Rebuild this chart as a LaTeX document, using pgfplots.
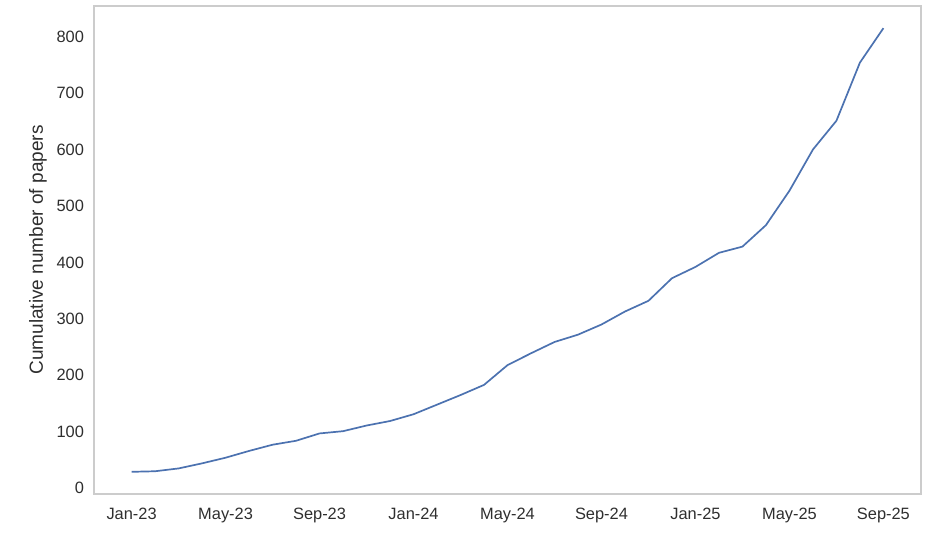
\documentclass[border=0pt]{standalone}
\usepackage{fontspec}
\setmainfont{Liberation Sans}
\usepackage{pgfplots}
\pgfplotsset{compat=1.18}
\definecolor{sbblue}{HTML}{4C72B0}
\definecolor{framegray}{HTML}{CCCCCC}
\definecolor{txtgray}{HTML}{2E2E2E}
\begin{document}
\begin{tikzpicture}
\useasboundingbox (-94pt,-49pt) rectangle (850pt,494pt);
\begin{axis}[
  at={(0pt,0pt)}, anchor=south west,
  scale only axis, width=827pt, height=488pt,
  xmin=-1.6, xmax=33.6, ymin=-10.3, ymax=854.3,
  axis line style={framegray, line width=1.2pt},
  xtick={0,4,8,12,16,20,24,28,32},
  xticklabels={Jan-23,May-23,Sep-23,Jan-24,May-24,Sep-24,Jan-25,May-25,Sep-25},
  ytick={0,100,200,300,400,500,600,700,800},
  major tick length=0pt, tick style={draw=none},
  /pgf/number format/assume math mode=true,
  ticklabel style={font=\fontsize{16.4}{19}\selectfont, text=txtgray},
  xticklabel style={yshift=-10.5pt},
  yticklabel style={xshift=-6.5pt},
  ylabel={Cumulative number of papers},
  every axis y label/.style={at={(rel axis cs:0,0.5)}, rotate=90, anchor=center, yshift=56pt, font=\fontsize{19}{22}\selectfont, text=txtgray},
  clip=false,
]
\addplot[sbblue, line width=1.7pt, line join=round] coordinates {
(0,29) (1,30) (2,35) (3,44) (4,54) (5,66) (6,77) (7,84) (8,97) (9,101)
(10,111) (11,119) (12,131) (13,148) (14,165) (15,183) (16,218) (17,239)
(18,259) (19,272) (20,290) (21,313) (22,332) (23,372) (24,392) (25,417)
(26,428) (27,466) (28,527) (29,600) (30,651) (31,754) (32,815)
};
\end{axis}
\end{tikzpicture}
\end{document}
